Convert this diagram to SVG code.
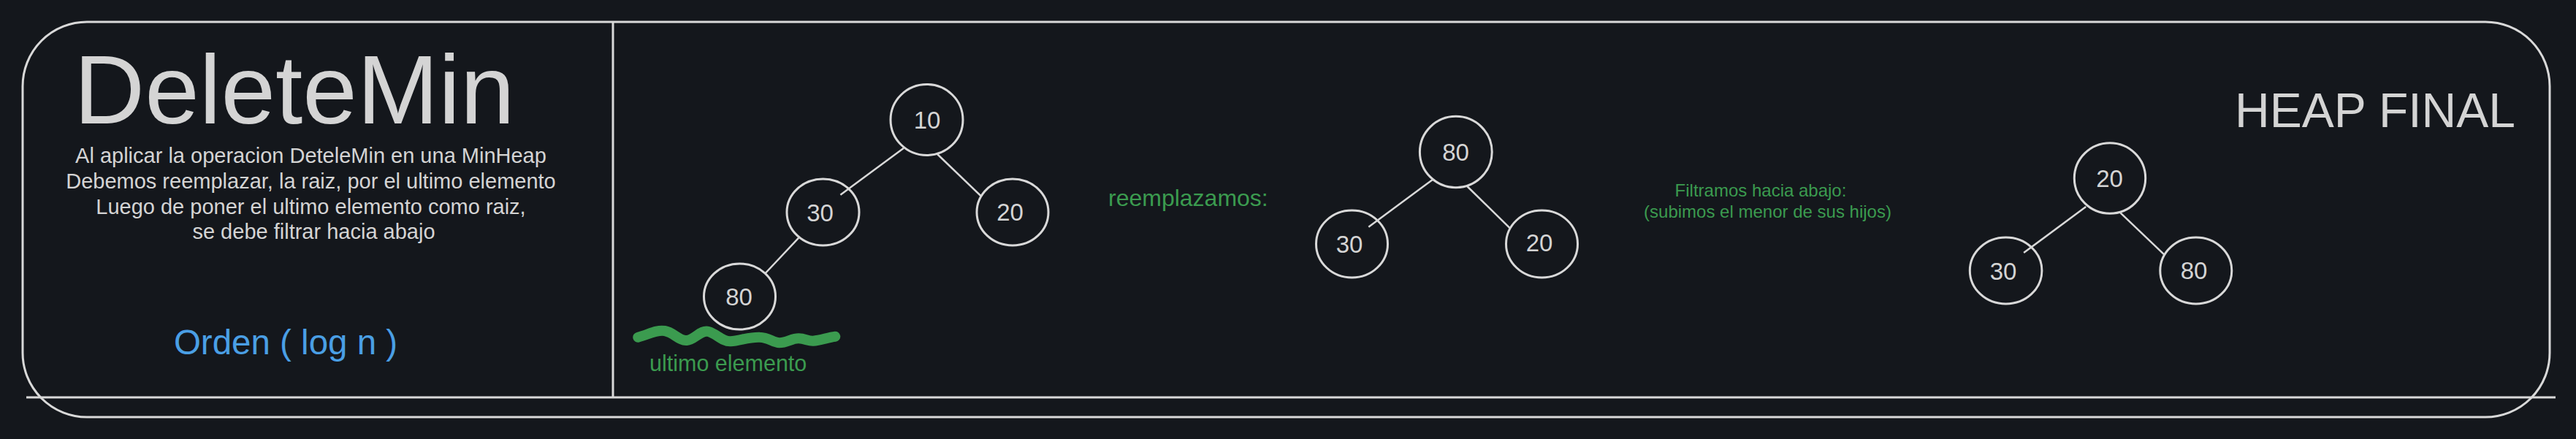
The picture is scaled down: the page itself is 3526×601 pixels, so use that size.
<svg xmlns="http://www.w3.org/2000/svg" width="3526" height="601" viewBox="0 0 3526 601">
<style>
.bg{fill:#14171c}
.frame{fill:none;stroke:#d9d9d9;stroke-width:3}
.node ellipse{fill:none;stroke:#d9d9d9;stroke-width:3}
.node text{font-family:"Liberation Sans",Arial,sans-serif;font-size:33px;fill:#d4d4d4;text-anchor:middle}
.edge{stroke:#d9d9d9;stroke-width:2.5;fill:none}
.t{font-family:"Liberation Sans",Arial,sans-serif;fill:#d4d4d4}
.g{font-family:"Liberation Sans",Arial,sans-serif;fill:#3b9b4f}
</style>
<rect class="bg" x="0" y="0" width="3526" height="601"/>
<g id="frame">
<rect class="frame" x="31" y="30" width="3459" height="541" rx="88" ry="88"/>
<line class="frame" x1="36" y1="544" x2="3498" y2="544"/>
<line class="frame" x1="839" y1="30" x2="839" y2="544"/>
</g>
<g id="intro">
<text class="t" x="403" y="169" font-size="134" text-anchor="middle">DeleteMin</text>
<text class="t" font-size="29" text-anchor="middle">
<tspan x="429.5" y="223.3">Al aplicar la operacion DeteleMin en una MinHeap</tspan>
<tspan x="429.5" y="258.3">Debemos reemplazar, la raiz, por el ultimo elemento</tspan>
<tspan x="429.5" y="293.3">Luego de poner el ultimo elemento como raiz,</tspan>
<tspan x="429.5" y="327">se debe filtrar hacia abajo</tspan>
</text>
<text x="391" y="485" font-size="47.5" text-anchor="middle" font-family="Liberation Sans, Arial, sans-serif" fill="#4a9fe5">Orden ( log n )</text>
</g>
<g id="connectors">
<line class="edge" x1="1237" y1="202.7" x2="1150.4" y2="266.7"/>
<line class="edge" x1="1283" y1="211" x2="1343.4" y2="269"/>
<line class="edge" x1="1093.2" y1="325.7" x2="1047.7" y2="374"/>
<line class="edge" x1="1961.2" y1="245.7" x2="1873.3" y2="310.7"/>
<line class="edge" x1="2008.2" y1="255" x2="2066.8" y2="312.3"/>
<line class="edge" x1="2855.2" y1="282.9" x2="2770.1" y2="346.1"/>
<line class="edge" x1="2902.4" y1="291.3" x2="2962.7" y2="348.8"/>
</g>
<g id="t1-10" class="node"><ellipse cx="1268.5" cy="164" rx="49.5" ry="48.5"/><text x="1269" y="176">10</text></g>
<g id="t1-30" class="node"><ellipse cx="1126.5" cy="290.5" rx="49.5" ry="45.5"/><text x="1122.5" y="302.5">30</text></g>
<g id="t1-20" class="node"><ellipse cx="1386" cy="290.5" rx="49" ry="45.5"/><text x="1382.5" y="301.5">20</text></g>
<g id="t1-80" class="node"><ellipse cx="1012.5" cy="406" rx="49" ry="45"/><text x="1011.5" y="418">80</text></g>
<g id="marker">
<path d="M873.3,461.7 C888,458 898,451 910,453 C922,455 930,467 940,466 C951,465 959,451 970,454 C981,457 989,468 1000,467.3 C1014,466 1026,461 1040,461.7 C1052,462 1058,469 1066.7,469.3 C1077,469.5 1084,463 1093.3,463.3 C1102,463.5 1106,467 1113,466.7 C1123,466 1133,462 1143.3,460.7" fill="none" stroke="#3b9b4f" stroke-width="14" stroke-linecap="round" stroke-linejoin="round"/>
<text class="g" x="889" y="508" font-size="30.5">ultimo elemento</text>
</g>
<g id="label-reemplazamos"><text class="g" x="1517" y="281.5" font-size="32">reemplazamos:</text></g>
<g id="t2-80" class="node"><ellipse cx="1992.8" cy="208" rx="49.4" ry="48.7"/><text x="1992.6" y="219.5">80</text></g>
<g id="t2-30" class="node"><ellipse cx="1850.5" cy="334" rx="49" ry="46"/><text x="1847" y="346">30</text></g>
<g id="t2-20" class="node"><ellipse cx="2110.5" cy="334" rx="49" ry="46"/><text x="2107" y="343.5">20</text></g>
<g id="label-filtramos">
<text class="g" font-size="24" text-anchor="middle"><tspan x="2410" y="269">Filtramos hacia abajo:</tspan><tspan x="2419.5" y="298">(subimos el menor de sus hijos)</tspan></text>
</g>
<g id="label-final"><text class="t" x="3443" y="174" font-size="66" text-anchor="end">HEAP FINAL</text></g>
<g id="t3-20" class="node"><ellipse cx="2888" cy="244" rx="48.7" ry="48.3"/><text x="2887.6" y="256">20</text></g>
<g id="t3-30" class="node"><ellipse cx="2745.6" cy="370.5" rx="49.3" ry="45.5"/><text x="2742" y="383">30</text></g>
<g id="t3-80" class="node"><ellipse cx="3005.8" cy="370.5" rx="49" ry="45.5"/><text x="3003" y="381.5">80</text></g>
</svg>
